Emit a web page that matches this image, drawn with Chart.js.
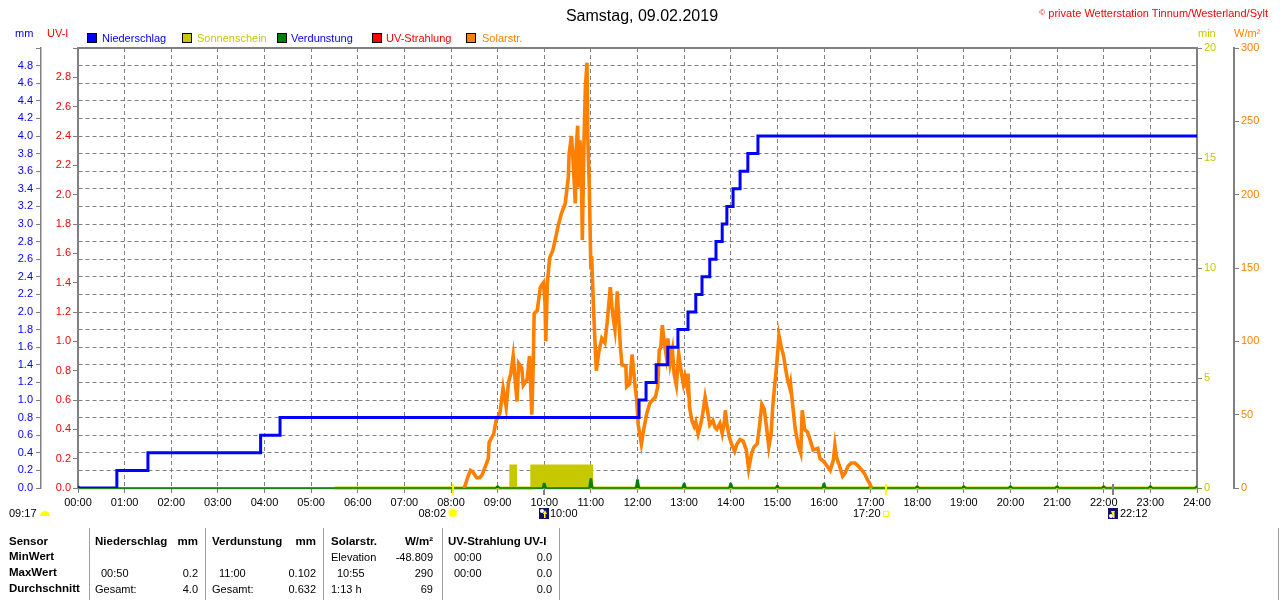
<!DOCTYPE html>
<html><head><meta charset="utf-8">
<script src="https://cdn.jsdelivr.net/npm/chart.js@4.4.1/dist/chart.umd.min.js"></script>
<style>
html,body{margin:0;padding:0;background:#fff;}
#wrap{position:relative;width:1280px;height:600px;overflow:hidden;font-family:"Liberation Sans",Arial,sans-serif;color:#000;}
#c{position:absolute;left:0;top:0;}
.t{position:absolute;white-space:nowrap;font-size:11px;line-height:11px;}
.b{font-weight:bold;font-size:11.5px;line-height:11.5px;}
.sq{position:absolute;top:33px;width:10px;height:10px;box-sizing:border-box;border:1px solid #000;}
.vl{position:absolute;top:528px;height:72px;width:1px;background:#a0a0a0;}
</style></head>
<body>
<div id="wrap">
<canvas id="c" width="1280" height="600"></canvas>

<div class="t" style="left:0;width:1284px;text-align:center;top:7.5px;font-size:16px;line-height:16px;">Samstag, 09.02.2019</div>
<div class="t" style="right:12px;top:7px;color:#ff0000;"><span style="font-size:8px;vertical-align:2px;">©</span> private Wetterstation Tinnum/Westerland/Sylt</div>

<div class="t" style="left:15px;top:28px;color:#0000ff;">mm</div>
<div class="t" style="left:47px;top:28px;color:#ff0000;">UV-I</div>
<div class="t" style="left:1198px;top:28px;color:#c8c800;">min</div>
<div class="t" style="left:1234px;top:28px;color:#ff8000;">W/m²</div>

<div class="sq" style="left:87px;background:#0000ff;"></div>
<div class="t" style="left:102px;top:32.6px;color:#0000ff;">Niederschlag</div>
<div class="sq" style="left:182px;background:#c8c800;"></div>
<div class="t" style="left:197px;top:32.6px;color:#c8c800;">Sonnenschein</div>
<div class="sq" style="left:277px;background:#008000;"></div>
<div class="t" style="left:291px;top:32.6px;color:#0000ff;">Verdunstung</div>
<div class="sq" style="left:372px;background:#ff0000;"></div>
<div class="t" style="left:386px;top:32.6px;color:#ff0000;">UV-Strahlung</div>
<div class="sq" style="left:466px;background:#ff8000;"></div>
<div class="t" style="left:482px;top:32.6px;color:#ff8000;">Solarstr.</div>

<div class="t" style="left:9px;top:507.6px;">09:17</div>
<div class="t" style="right:834px;top:507.6px;">08:02</div>
<div class="t" style="left:550px;top:507.6px;">10:00</div>
<div class="t" style="left:853px;top:507.6px;">17:20</div>
<div class="t" style="left:1120px;top:507.6px;">22:12</div>

<div class="vl" style="left:89px;"></div>
<div class="vl" style="left:205px;"></div>
<div class="vl" style="left:323px;"></div>
<div class="vl" style="left:442px;"></div>
<div class="vl" style="left:559px;"></div>
<div class="vl" style="left:1278px;"></div>

<div class="t b" style="left:9px;top:536px;">Sensor</div>
<div class="t b" style="left:9px;top:551.4px;">MinWert</div>
<div class="t b" style="left:9px;top:567.4px;">MaxWert</div>
<div class="t b" style="left:9px;top:583.4px;">Durchschnitt</div>

<div class="t b" style="left:95px;top:536px;">Niederschlag</div>
<div class="t b" style="right:1082px;top:536px;">mm</div>
<div class="t" style="left:101px;top:567.6px;">00:50</div>
<div class="t" style="right:1082px;top:567.6px;">0.2</div>
<div class="t" style="left:95px;top:583.6px;">Gesamt:</div>
<div class="t" style="right:1082px;top:583.6px;">4.0</div>

<div class="t b" style="left:212px;top:536px;">Verdunstung</div>
<div class="t b" style="right:964px;top:536px;">mm</div>
<div class="t" style="left:219px;top:567.6px;">11:00</div>
<div class="t" style="right:964px;top:567.6px;">0.102</div>
<div class="t" style="left:212px;top:583.6px;">Gesamt:</div>
<div class="t" style="right:964px;top:583.6px;">0.632</div>

<div class="t b" style="left:331px;top:536px;">Solarstr.</div>
<div class="t b" style="right:847px;top:536px;">W/m²</div>
<div class="t" style="left:331px;top:551.6px;">Elevation</div>
<div class="t" style="right:847px;top:551.6px;">-48.809</div>
<div class="t" style="left:337px;top:567.6px;">10:55</div>
<div class="t" style="right:847px;top:567.6px;">290</div>
<div class="t" style="left:331px;top:583.6px;">1:13 h</div>
<div class="t" style="right:847px;top:583.6px;">69</div>

<div class="t b" style="left:448px;top:536px;">UV-Strahlung UV-I</div>
<div class="t" style="left:454px;top:551.6px;">00:00</div>
<div class="t" style="right:728px;top:551.6px;">0.0</div>
<div class="t" style="left:454px;top:567.6px;">00:00</div>
<div class="t" style="right:728px;top:567.6px;">0.0</div>
<div class="t" style="right:728px;top:583.6px;">0.0</div>
</div>

<script>
// ---- data (x values are minutes after midnight) ----
const rainTimes  = [0, 50, 90, 235, 260, 722, 731, 744, 759, 772, 785, 795, 803, 813, 821, 829, 835, 843, 852, 862, 875, 1440];
const rainTotals = [0, 0.2, 0.4, 0.6, 0.8, 1.0, 1.2, 1.4, 1.6, 1.8, 2.0, 2.2, 2.4, 2.6, 2.8, 3.0, 3.2, 3.4, 3.6, 3.8, 4.0, 4.0];

const solarTimes = [497,502,505,508,513,517,520,523,528,529,535,538,543,547,551,554,557,560,563,565,567,571,573,578,581,584,586,587,591,595,599,601,602,604,607,611,614,618,622,627,629,631,632,635,637,640,641,643,644,646,648,649,651,653,655,656,658,660,661,663,665,667,670,674,678,681,685,687,689,691,694,695,698,700,705,706,710,713,715,717,719,721,725,728,732,736,743,746,748,750,752,754,757,759,762,765,767,770,773,776,779,781,784,785,787,790,793,795,798,802,804,807,810,813,817,820,822,826,829,832,833,835,838,841,845,848,852,856,860,863,867,870,874,877,880,883,886,889,892,894,896,899,902,905,908,911,913,916,917,920,923,927,930,932,935,939,942,946,952,955,960,964,968,972,974,976,980,984,987,991,995,1000,1004,1009,1013,1016,1019,1021];
const solarValues = [0,8,12,11,7,7,9,13,20,31,37,46,51,68,55,72,78,90,71,59,85,82,70,74,90,50,88,119,121,137,140,126,100,140,157,162,169,179,187,194,203,212,228,240,224,194,230,247,205,237,208,169,233,274,290,240,205,149,158,128,103,80,92,102,99,113,137,124,115,108,134,124,96,84,83,69,71,91,80,69,60,43,30,40,51,58,62,69,94,96,111,101,90,102,85,94,78,70,92,80,71,76,68,78,55,46,42,45,37,45,51,62,53,43,46,41,40,44,37,46,53,44,35,30,25,30,33,32,26,13,24,28,30,42,57,54,42,28,37,55,67,83,104,96,90,80,74,68,71,55,40,29,24,53,40,38,33,26,27,20,18,15,12,19,29,21,15,8,10,15,17,17,15,12,9,5.5,3,0];

const evapHours  = [0, 9, 10, 11, 12, 13, 14, 15, 16, 17, 18, 19, 20, 21, 22, 23, 24];
const evapValues = [0.02, 0.02, 0.05, 0.102, 0.09, 0.05, 0.05, 0.026, 0.05, 0.025, 0.02, 0.02, 0.02, 0.02, 0.02, 0.02, 0.02];

const sunTimes   = [330, 557, 563, 584, 661, 1440];
const sunMinutes = [0, 1, 0, 1, 0, 0];

const sunriseMin = 482, sunsetMin = 1040, moonAMin = 600, moonBMin = 1332;

// ---- helpers ----
const pad2 = n => String(n).padStart(2, '0');
const hhmm = v => pad2(Math.floor(v / 60)) + ':' + pad2(Math.round(v % 60));
const pts = (xs, ys) => xs.map((x, i) => ({x: x, y: ys[i]}));
const evapPts = [];
evapHours.forEach((h, i) => {
  const t = h * 60, v = evapValues[i];
  evapPts.push({x: t - 2.5, y: 0}, {x: t - 0.8, y: v}, {x: t + 0.8, y: v}, {x: t + 2.5, y: 0});
});

const grey = '#808080';
const font = {family: "'Liberation Sans', Arial, sans-serif", size: 11};

const framePlugin = {
  id: 'frameMarkers',
  beforeDatasetsDraw(chart) {
    const {ctx, chartArea: a} = chart;
    ctx.save();
    ctx.strokeStyle = grey;
    ctx.lineWidth = 2;
    ctx.beginPath();
    ctx.moveTo(a.left, a.bottom); ctx.lineTo(a.left, a.top);
    ctx.lineTo(a.right, a.top); ctx.lineTo(a.right, a.bottom);
    ctx.stroke();
    ctx.lineWidth = 1.5;
    ctx.beginPath(); ctx.moveTo(a.left, a.bottom + 0.5); ctx.lineTo(a.right, a.bottom + 0.5); ctx.stroke();
    ctx.restore();
  },
  afterDatasetsDraw(chart) {
    const {ctx, chartArea: a, scales: {x}} = chart;
    const b = a.bottom;
    const px = t => Math.round(x.getPixelForValue(t));
    ctx.save();
    const tick = (t, col, y1, y2) => { ctx.fillStyle = col; ctx.fillRect(px(t) - 1, y1, 2, y2 - y1); };
    tick(sunriseMin, '#ffff00', b - 4, b + 7);
    tick(sunsetMin, '#ffff00', b - 4, b + 7);
    tick(moonAMin, grey, b + 2, b + 7);
    tick(moonBMin, grey, b - 4, b + 7);
    const iy = b + 25;
    // sunrise icon
    let cx = px(sunriseMin);
    ctx.fillStyle = '#ffff80';
    ctx.beginPath(); ctx.arc(cx, iy, 5, 0, Math.PI * 2); ctx.fill();
    ctx.fillStyle = '#ffff00';
    ctx.beginPath(); ctx.arc(cx, iy, 3.5, 0, Math.PI * 2); ctx.fill();
    // sunset icon
    cx = px(sunsetMin);
    ctx.strokeStyle = '#ffff00'; ctx.lineWidth = 1;
    ctx.strokeRect(cx - 2.5, iy - 1.5, 5, 5);
    // moon icons
    [[moonAMin, 1], [moonBMin, -1]].forEach(([t, dir]) => {
      const mx = px(t);
      ctx.fillStyle = '#10106e';
      ctx.fillRect(mx - 5, iy - 5, 10, 11);
      ctx.fillStyle = '#ffffff';
      ctx.beginPath(); ctx.arc(mx - 2, iy - (dir > 0 ? 2 : -3), 2, 0, Math.PI * 2); ctx.fill();
      ctx.fillStyle = '#ffff00';
      ctx.beginPath();
      if (dir > 0) { ctx.moveTo(mx + 1, iy - 3); ctx.lineTo(mx - 1, iy + 1); ctx.lineTo(mx + 3, iy + 1); }
      else { ctx.moveTo(mx, iy + 3); ctx.lineTo(mx - 2, iy - 2); ctx.lineTo(mx + 2, iy - 2); }
      ctx.closePath(); ctx.fill();
      ctx.fillRect(mx, iy, 1.5, 5);
    });
    // first sunshine icon (half sun)
    ctx.fillStyle = '#ffff00';
    ctx.beginPath(); ctx.arc(45, iy + 3, 5, Math.PI, 0); ctx.closePath(); ctx.fill();
    ctx.restore();
  }
};

new Chart(document.getElementById('c'), {
  type: 'line',
  data: {
    datasets: [
      {label: 'Niederschlag', data: pts(rainTimes, rainTotals), yAxisID: 'yMM', stepped: true,
       borderColor: '#0000ff', borderWidth: 3, pointRadius: 0, fill: false, order: 0},
      {label: 'Solarstr.', data: pts(solarTimes, solarValues), yAxisID: 'yW',
       borderColor: '#ff8000', borderWidth: 3.6, pointRadius: 0, fill: false, tension: 0, order: 1},
      {label: 'Verdunstung', data: evapPts, yAxisID: 'yMM',
       borderColor: '#008000', backgroundColor: '#008000', borderWidth: 1.5, pointRadius: 0,
       fill: 'origin', order: 2, clip: {left: 0, top: 0, right: 0, bottom: 3}},
      {label: 'Sonnenschein', data: pts(sunTimes, sunMinutes), yAxisID: 'yMin', stepped: true,
       borderColor: '#c8c800', backgroundColor: '#c8c800', borderWidth: 3, pointRadius: 0,
       fill: 'origin', order: 3, clip: {left: 0, top: 0, right: 0, bottom: 3}}
    ]
  },
  options: {
    responsive: false, animation: false, devicePixelRatio: 1, events: [],
    layout: {padding: {left: 0, right: 0, top: 48, bottom: 88}},
    plugins: {legend: {display: false}, tooltip: {enabled: false}},
    scales: {
      x: {type: 'linear', position: 'bottom', min: 0, max: 1440,
          ticks: {stepSize: 60, autoSkip: false, maxRotation: 0, minRotation: 0, color: '#000', font: font, padding: 3,
                  callback: v => hhmm(v)},
          grid: {color: grey, lineWidth: 1, drawTicks: true, tickLength: 5, tickColor: grey},
          border: {display: false, dash: [4, 3]},
          afterFit(s) { s.height = 24; }},
      yMM: {type: 'linear', position: 'left', min: 0, max: 5, weight: 1,
          ticks: {stepSize: 0.2, color: '#0000ff', font: font, padding: 3,
                  callback: v => (v > 4.9 ? '' : Number(v).toFixed(1))},
          grid: {color: grey, lineWidth: 1, drawTicks: true, tickLength: 5, tickColor: grey},
          border: {display: true, color: grey, width: 1.5, dash: [4, 3]},
          afterFit(s) { s.width = 41; }},
      yUV: {type: 'linear', position: 'left', min: 0, max: 3, weight: 0,
          ticks: {stepSize: 0.2, color: '#ff0000', font: font, padding: 2,
                  callback: v => (v > 2.9 ? '' : Number(v).toFixed(1))},
          grid: {drawOnChartArea: false, drawTicks: true, tickLength: 5, tickColor: grey},
          border: {display: false},
          afterFit(s) { s.width = 37; }},
      yMin: {type: 'linear', position: 'right', min: 0, max: 20, weight: 0,
          ticks: {stepSize: 5, color: '#c8c800', font: font, padding: 2},
          grid: {drawOnChartArea: false, drawTicks: true, tickLength: 5, tickColor: grey},
          border: {display: false},
          afterFit(s) { s.width = 37; }},
      yW: {type: 'linear', position: 'right', min: 0, max: 300, weight: 1,
          ticks: {stepSize: 50, color: '#ff8000', font: font, padding: 2},
          grid: {drawOnChartArea: false, drawTicks: true, tickLength: 5, tickColor: grey},
          border: {display: true, color: grey, width: 2},
          afterFit(s) { s.width = 46; }}
    }
  },
  plugins: [framePlugin]
});
</script>
</body></html>
